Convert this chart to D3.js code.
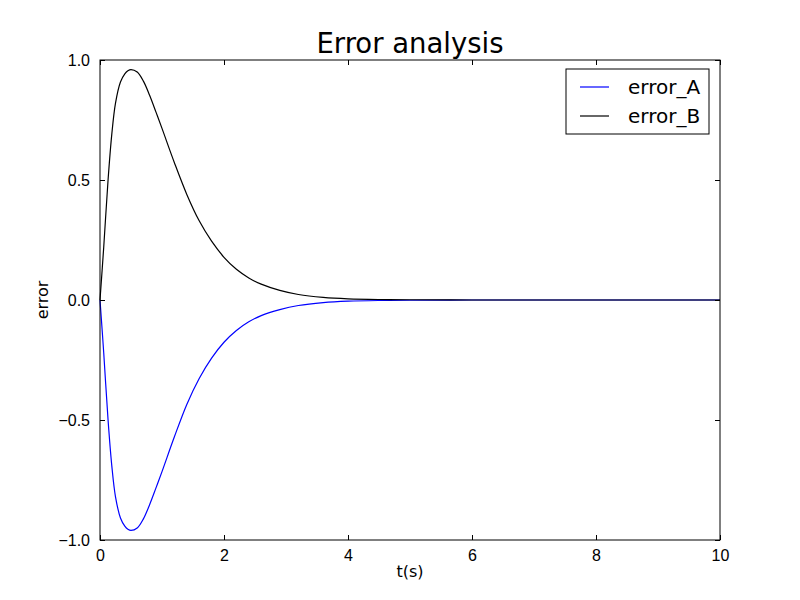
<!DOCTYPE html>
<html>
<head>
<meta charset="utf-8">
<script src="https://cdn.jsdelivr.net/npm/d3@7"></script>
<style>
  body { margin: 0; background: #fff; }
  svg { font-family: "DejaVu Sans", sans-serif; }
</style>
</head>
<body>
<svg width="800" height="600"></svg>
<script>
// values
const tValues = [0, 0.06, 0.13, 0.19, 0.25, 0.33, 0.4, 0.45, 0.5, 0.6, 0.7, 0.8, 0.9, 1.0, 1.2, 1.4, 1.6, 1.8, 2.0, 2.2, 2.4, 2.6, 2.9, 3.2, 3.6, 4.0, 4.5, 5, 6, 7, 8, 9, 10]
const errorB = [0, 0.22, 0.50, 0.69, 0.82, 0.908, 0.942, 0.955, 0.96, 0.95, 0.912, 0.853, 0.785, 0.715, 0.572, 0.44, 0.33, 0.245, 0.178, 0.128, 0.092, 0.066, 0.04, 0.023, 0.011, 0.005, 0.002, 0.001, 0, 0, 0, 0, 0]
const errorA = [0, -0.22, -0.50, -0.69, -0.82, -0.908, -0.942, -0.955, -0.96, -0.95, -0.912, -0.853, -0.785, -0.715, -0.57, -0.435, -0.327, -0.242, -0.176, -0.127, -0.091, -0.065, -0.04, -0.023, -0.011, -0.005, -0.002, -0.001, 0, 0, 0, 0, 0]
const xTicks = [0, 2, 4, 6, 8, 10]
const yTicks = [-1, -0.5, 0, 0.5, 1]
const seriesNames = ['error_A', 'error_B']
const seriesColors = ['#0000ff', '#000000']

const svg = d3.select('svg'),
    margin = {top: 60, right: 80, bottom: 60, left: 100},
    width = svg.attr('width') - margin.left - margin.right,
    height = svg.attr('height') - margin.top - margin.bottom,
    x = d3.scaleLinear().domain([0, 10]).range([0, width]),
    y = d3.scaleLinear().domain([-1, 1]).range([height, 0]),
    g = svg.append('g')
        .attr('transform', `translate(${margin.left}, ${margin.top})`);

const fmtY = d => d3.format('.1f')(d).replace('-', '\u2212')

// lines
const series = [errorA, errorB]
const line = d3.line()
    .x((d, i) => x(tValues[i]))
    .y(d => y(d))
    .curve(d3.curveCatmullRom.alpha(0.5))

series.forEach((vals, k) => {
    g.append('path')
        .datum(vals)
        .attr('fill', 'none')
        .attr('stroke', seriesColors[k])
        .attr('stroke-width', 1.2)
        .attr('d', line)
})

// axes (ticks inside, on all four sides)
const styleAxis = sel => {
    sel.select('.domain').remove()
    sel.selectAll('line').attr('stroke', '#000')
    sel.selectAll('text').attr('fill', '#000').style('font-size', '16px')
}
g.append('g')
    .attr('transform', `translate(0, ${height})`)
    .call(d3.axisBottom(x).tickValues(xTicks).tickFormat(d3.format('d')).tickSizeInner(-5).tickPadding(10))
    .call(styleAxis)
g.append('g')
    .call(d3.axisTop(x).tickValues(xTicks).tickSizeInner(-5).tickFormat(''))
    .call(styleAxis)
g.append('g')
    .call(d3.axisLeft(y).tickValues(yTicks).tickFormat(fmtY).tickSizeInner(-5).tickPadding(10))
    .call(styleAxis)
g.append('g')
    .attr('transform', `translate(${width}, 0)`)
    .call(d3.axisRight(y).tickValues(yTicks).tickSizeInner(-5).tickFormat(''))
    .call(styleAxis)

g.append('rect')
    .attr('width', width)
    .attr('height', height)
    .attr('fill', 'none')
    .attr('stroke', '#000')
    .attr('stroke-width', 1)

// title and labels
svg.append('text')
    .attr('x', margin.left + width / 2)
    .attr('y', 53)
    .attr('text-anchor', 'middle')
    .style('font-size', '27.5px')
    .text('Error analysis')
svg.append('text')
    .attr('x', margin.left + width / 2)
    .attr('y', 577)
    .attr('text-anchor', 'middle')
    .style('font-size', '16px')
    .text('t(s)')
svg.append('text')
    .attr('transform', `translate(48, ${margin.top + height / 2}) rotate(-90)`)
    .attr('text-anchor', 'middle')
    .style('font-size', '16px')
    .text('error')

// legend
const lg = svg.append('g').attr('transform', 'translate(566, 69)')
lg.append('rect')
    .attr('width', 143)
    .attr('height', 65)
    .attr('fill', '#fff')
    .attr('stroke', '#000')
seriesNames.forEach((name, k) => {
    const yy = 18 + k * 29
    lg.append('line')
        .attr('x1', 14).attr('x2', 43)
        .attr('y1', yy).attr('y2', yy)
        .attr('stroke', seriesColors[k])
        .attr('stroke-width', 1.2)
    lg.append('text')
        .attr('x', 62)
        .attr('y', yy + 7)
        .style('font-size', '20px')
        .text(name)
})
</script>
</body>
</html>
